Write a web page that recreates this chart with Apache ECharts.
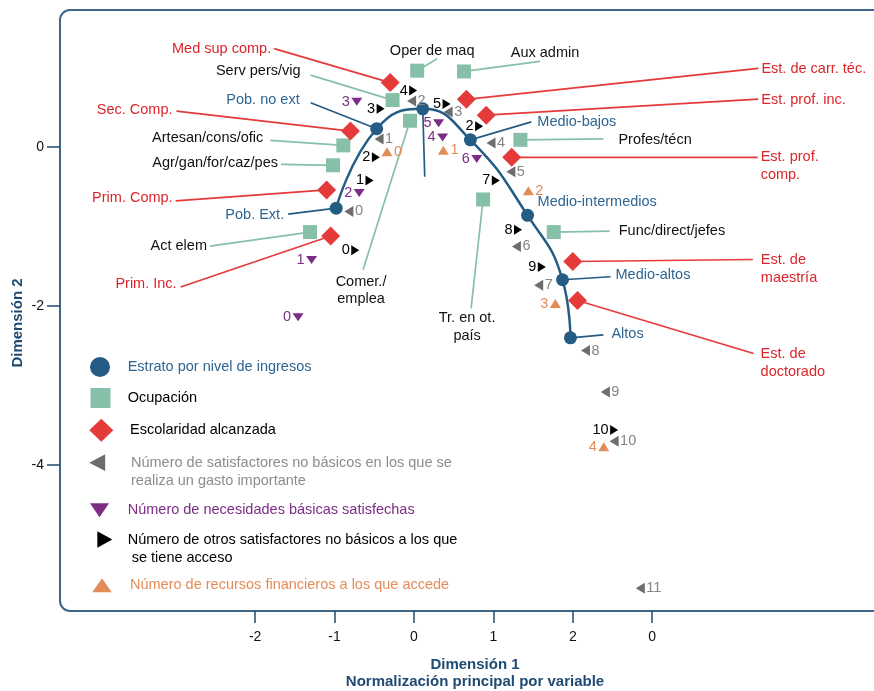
<!DOCTYPE html>
<html lang="es">
<head>
    <meta charset="UTF-8">
    <title>Análisis de correspondencias</title>
    <script src="https://cdn.jsdelivr.net/npm/echarts@6/dist/echarts.min.js"></script>
    <style>
        html, body { margin: 0; padding: 0; background: #fff; }
    </style>
</head>
<body>
 <div id="myChart" style="width: 874px;height: 691px;"></div>
 <script>
     // ejes
     var xTickValues = [-2, -1, 0, 1, 2, 3];
     var xTickLabels = ['-2', '-1', '0', '1', '2', '0'];
     var yTickValues = [0, -2, -4];
     var yTickLabels = ['0', '-2', '-4'];

     // estrato por nivel de ingresos
     var strataNames = ['Pob. Ext.', 'Pob. no ext', '', 'Medio-bajos', 'Medio-intermedios', 'Medio-altos', 'Altos'];
     var strataX = [-0.98, -0.47, 0.11, 0.71, 1.43, 1.87, 1.97];
     var strataY = [-0.77, 0.23, 0.48, 0.09, -0.86, -1.67, -2.40];

     // ocupacion
     var occNames = ['Oper de maq', 'Aux admin', 'Serv pers/vig', 'Comer./\nemplea', 'Artesan/cons/ofic',
         'Agr/gan/for/caz/pes', 'Act elem', 'Tr. en ot.\npaís', 'Profes/técn', 'Func/direct/jefes'];
     var occX = [0.04, 0.63, -0.27, -0.05, -0.89, -1.02, -1.31, 0.87, 1.34, 1.76];
     var occY = [0.96, 0.95, 0.59, 0.33, 0.02, -0.23, -1.07, -0.66, 0.09, -1.07];

     // escolaridad alcanzada
     var eduNames = ['Med sup comp.', 'Sec. Comp.', 'Prim. Comp.', 'Prim. Inc.', 'Est. de carr. téc.',
         'Est. prof. inc.', 'Est. prof.\ncomp.', 'Est. de\nmaestría', 'Est. de\ndoctorado'];
     var eduX = [-0.30, -0.80, -1.10, -1.05, 0.66, 0.91, 1.23, 2.00, 2.06];
     var eduY = [0.81, 0.20, -0.54, -1.12, 0.60, 0.40, -0.13, -1.44, -1.93];

     // satisfactores no basicos con gasto importante
     var spendLabels = ['0', '1', '2', '3', '4', '5', '6', '7', '8', '9', '10', '11'];
     var spendX = [-0.82, -0.44, -0.03, 0.43, 0.97, 1.22, 1.29, 1.57, 2.16, 2.41, 2.52, 2.85];
     var spendY = [-0.81, 0.10, 0.58, 0.44, 0.05, -0.31, -1.25, -1.74, -2.56, -3.08, -3.70, -5.55];

     // necesidades basicas satisfechas
     var basicLabels = ['0', '1', '2', '3', '4', '5', '6'];
     var basicX = [-1.46, -1.29, -0.69, -0.72, 0.36, 0.31, 0.79];
     var basicY = [-2.14, -1.42, -0.58, 0.57, 0.12, 0.30, -0.15];

     // otros satisfactores no basicos con acceso
     var accessLabels = ['0', '1', '2', '3', '4', '5', '2', '7', '8', '9', '10'];
     var accessX = [-0.74, -0.56, -0.48, -0.42, -0.01, 0.41, 0.82, 1.03, 1.31, 1.61, 2.52];
     var accessY = [-1.30, -0.42, -0.13, 0.48, 0.71, 0.54, 0.26, -0.42, -1.04, -1.51, -3.56];

     // recursos financieros
     var financeLabels = ['0', '1', '2', '3', '4'];
     var financeX = [-0.34, 0.37, 1.44, 1.78, 2.39];
     var financeY = [-0.06, -0.04, -0.55, -1.97, -3.77];
     var financeSide = ['right', 'right', 'right', 'left', 'left'];

     var legendNames = [
         'Estrato por nivel de ingresos',
         'Ocupación',
         'Escolaridad alcanzada',
         'Número de satisfactores no básicos en los que se\nrealiza un gasto importante',
         'Número de necesidades básicas satisfechas',
         'Número de otros satisfactores no básicos a los que\n se tiene acceso',
         'Número de recursos financieros a los que accede'
     ];

     // posicion de las etiquetas: [fin de la linea guia], [texto], alineacion (pixeles desde la marca)
     var strataTags = [
         [[-48, 6], [-52, 7], 'right'],
         [[-66, -26], [-77, -29], 'right'],
         [[2, 68], null, 'left'],
         [[61, -18], [67, -18], 'left'],
         [null, [10, -13], 'left'],
         [[48, -3], [53, -5], 'left'],
         [[33, -3], [41, -4], 'left']
     ];
     var occTags = [
         [[20, -12], [15, -20], 'center'],
         [[76, -10], [81, -18], 'center'],
         [[-82, -25], [-92, -29], 'right'],
         [[-47, 149], [-49, 161], 'center'],
         [[-73, -5], [-80, -7], 'right'],
         [[-52, -1], [-55, -2], 'right'],
         [[-100, 14], [-103, 14], 'right'],
         [[-12, 109], [-16, 119], 'center'],
         [[83, -1], [98, 0], 'left'],
         [[56, -1], [65, -1], 'left']
     ];
     var eduTags = [
         [[-116, -34], [-119, -34], 'right'],
         [[-174, -20], [-178, -21], 'right'],
         [[-151, 11], [-154, 8], 'right'],
         [[-150, 51], [-154, 48], 'right'],
         [[292, -31], [295, -30], 'left'],
         [[272, -16], [275, -15], 'left'],
         [[246, 0], [249, 0], 'left'],
         [[180, -2], [188, -1], 'left'],
         [[176, 53], [183, 54], 'left']
     ];

     var FONT = "'Liberation Sans', Arial, sans-serif";
     var BLUE = '#245c84';
     var GREEN = '#87c0a8';
     var RED = '#e53a3a';
     var GREY = '#6d6d6d';
     var PURPLE = '#7b2d86';
     var ORANGE = '#e38c58';
     var NAVY = '#1f4a72';

     var LEFT_TRI = 'path://M10,0 L0,6 L10,12 Z';
     var RIGHT_TRI = 'path://M0,0 L10,6 L0,12 Z';
     var DOWN_TRI = 'path://M0,0 L14,0 L7,10 Z';
     var UP_TRI = 'path://M7,0 L14,10 L0,10 Z';

     function pairs(xs, ys) {
         return xs.map(function (x, i) { return [x, ys[i]]; });
     }

     // etiquetas con linea guia
     var tags = [];
     function addTags(names, xs, ys, layout, lineColor, textColor) {
         names.forEach(function (n, i) {
             tags.push({x: xs[i], y: ys[i], text: n, line: layout[i][0], pos: layout[i][1],
                 align: layout[i][2], lineColor: lineColor, textColor: textColor});
         });
     }
     addTags(strataNames, strataX, strataY, strataTags, BLUE, '#2e6592');
     addTags(occNames, occX, occY, occTags, GREEN, '#111');
     addTags(eduNames, eduX, eduY, eduTags, RED, '#d9262b');

     // leyenda: un componente por fila
     var legends = [
         // left, top, itemWidth, itemHeight, icono, color texto, linea en blanco arriba
         [90, 357, 45.4, 20, 'circle', '#2e6592', false],
         [90.5, 388, 44.4, 20, 'path://M0,0 L20,0 L20,20 L0,20 Z', '#000', false],
         [89.3, 418.8, 47.4, 23, 'path://M12,0 L24,11.5 L12,23 L0,11.5 Z', '#000', false],
         [89.2, 435.7, 57.6, 16.7, 'path://M16,0 L0,8.35 L16,16.7 Z', '#8c8c8c', true],
         [90, 501.3, 46.4, 14, 'path://M0,0 L19,0 L9.5,14 Z', PURPLE, false],
         [97.3, 512.5, 35.8, 16.7, 'path://M0,0 L15,8.35 L0,16.7 Z', '#000', true],
         [92.3, 576.3, 46, 14, 'path://M9.7,0 L19.4,14 L0,14 Z', ORANGE, false]
     ].map(function (l, i) {
         return {
             left: l[0], top: l[1], itemWidth: l[2], itemHeight: l[3],
             padding: 0, selectedMode: false, symbolKeepAspect: true,
             data: [{name: legendNames[i], icon: l[4]}],
             formatter: l[6] ? function (name) { return '\n' + name; } : '{name}',
             textStyle: {color: l[5], fontSize: 14.5, fontFamily: FONT, lineHeight: 18}
         };
     });

     function numLabel(color, pos, labels) {
         return {
             show: true, position: pos, distance: 1.5, color: color,
             fontSize: 14.5, fontFamily: FONT,
             formatter: function (p) { return labels[p.dataIndex]; }
         };
     }

     var option = {
         animation: false,
         backgroundColor: '#fff',
         grid: {left: 60, top: 10, width: 814, height: 601, show: false},
         xAxis: {
             type: 'value', min: -4.458, max: 5.793,
             axisLine: {show: false, onZero: false},
             splitLine: {show: false},
             axisTick: {show: true, customValues: xTickValues, length: 12, lineStyle: {color: NAVY, width: 1.5}},
             axisLabel: {
                 customValues: xTickValues, margin: 19, color: '#111', fontSize: 14, fontFamily: FONT,
                 formatter: function (v) { return xTickLabels[xTickValues.indexOf(v)]; }
             }
         },
         yAxis: {
             type: 'value', min: -5.836, max: 1.723,
             axisLine: {show: false, onZero: false},
             splitLine: {show: false},
             axisTick: {show: true, customValues: yTickValues, length: 13, lineStyle: {color: NAVY, width: 1.5}},
             axisLabel: {
                 customValues: yTickValues, margin: 16, color: '#111', fontSize: 14, fontFamily: FONT,
                 formatter: function (v) { return yTickLabels[yTickValues.indexOf(v)]; }
             }
         },
         legend: legends,
         graphic: [
             {
                 type: 'rect', silent: true, z: 0,
                 shape: {x: 60, y: 10, width: 880, height: 601, r: 10},
                 style: {fill: 'none', stroke: '#3f6689', lineWidth: 2}
             },
             {
                 type: 'text', silent: true,
                 x: 475, y: 656,
                 style: {
                     text: 'Dimensión 1\nNormalización principal por variable',
                     x: 0, y: 0, align: 'center', verticalAlign: 'top',
                     fill: NAVY, font: 'bold 15px ' + FONT, lineHeight: 17
                 }
             },
             {
                 type: 'text', silent: true,
                 x: 18, y: 323, rotation: Math.PI / 2,
                 style: {
                     text: 'Dimensión 2', align: 'center', verticalAlign: 'middle',
                     fill: NAVY, font: 'bold 15px ' + FONT
                 }
             }
         ],
         series: [
             {
                 name: 'guias',
                 type: 'custom',
                 z: 1,
                 silent: true,
                 data: tags.map(function (t) { return [t.x, t.y]; }),
                 renderItem: function (params, api) {
                     var t = tags[params.dataIndex];
                     var p = api.coord([t.x, t.y]);
                     var kids = [];
                     if (t.line) {
                         kids.push({
                             type: 'line',
                             shape: {x1: p[0], y1: p[1], x2: p[0] + t.line[0], y2: p[1] + t.line[1]},
                             style: {stroke: t.lineColor, lineWidth: 1.7}
                         });
                     }
                     if (t.pos && t.text) {
                         var multi = t.text.indexOf('\n') >= 0;
                         kids.push({
                             type: 'text',
                             x: p[0] + t.pos[0],
                             y: p[1] + t.pos[1] - (multi ? 8.75 : 0),
                             style: {
                                 text: t.text, fill: t.textColor, fontSize: 14.5, fontFamily: FONT,
                                 align: t.align, verticalAlign: multi ? 'top' : 'middle', lineHeight: 17.5
                             }
                         });
                     }
                     return {type: 'group', children: kids};
                 }
             },
             {
                 name: 'curva',
                 type: 'line',
                 z: 2,
                 smooth: 0.5,
                 showSymbol: false,
                 silent: true,
                 lineStyle: {color: BLUE, width: 2.5},
                 data: pairs(strataX, strataY)
             },
             {
                 name: legendNames[0], type: 'scatter', z: 3,
                 symbol: 'circle', symbolSize: 13,
                 itemStyle: {color: BLUE, opacity: 1},
                 data: pairs(strataX, strataY)
             },
             {
                 name: legendNames[1], type: 'scatter', z: 3,
                 symbol: 'rect', symbolSize: 14,
                 itemStyle: {color: GREEN, opacity: 1},
                 data: pairs(occX, occY)
             },
             {
                 name: legendNames[2], type: 'scatter', z: 3,
                 symbol: 'diamond', symbolSize: 19,
                 itemStyle: {color: RED, opacity: 1},
                 data: pairs(eduX, eduY)
             },
             {
                 name: legendNames[3], type: 'scatter', z: 3,
                 symbol: LEFT_TRI, symbolSize: [9, 11],
                 itemStyle: {color: GREY, opacity: 1},
                 label: numLabel('#858585', 'right', spendLabels),
                 data: pairs(spendX, spendY)
             },
             {
                 name: legendNames[4], type: 'scatter', z: 3,
                 symbol: DOWN_TRI, symbolSize: [11, 8],
                 itemStyle: {color: PURPLE, opacity: 1},
                 label: numLabel(PURPLE, 'left', basicLabels),
                 data: pairs(basicX, basicY)
             },
             {
                 name: legendNames[5], type: 'scatter', z: 3,
                 symbol: RIGHT_TRI, symbolSize: [8, 10],
                 itemStyle: {color: '#000', opacity: 1},
                 label: numLabel('#000', 'left', accessLabels),
                 data: pairs(accessX, accessY)
             },
             {
                 name: legendNames[6], type: 'scatter', z: 3,
                 symbol: UP_TRI, symbolSize: [11, 9],
                 itemStyle: {color: ORANGE, opacity: 1},
                 label: numLabel(ORANGE, 'right', financeLabels),
                 data: pairs(financeX, financeY).map(function (v, i) {
                     return {value: v, label: {position: financeSide[i]}};
                 })
             }
         ]
     };

     var myChart = echarts.init(document.getElementById('myChart'));
     myChart.setOption(option);
 </script>
</body>
</html>
